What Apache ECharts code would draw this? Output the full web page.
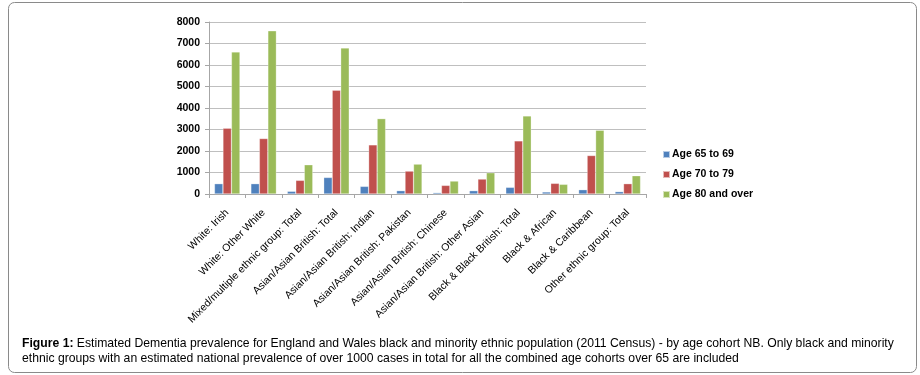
<!DOCTYPE html>
<html><head><meta charset="utf-8">
<script src="https://cdn.jsdelivr.net/npm/echarts@6/dist/echarts.min.js"></script>
<style>html,body{margin:0;padding:0;background:#fff}#c{width:920px;height:375px}</style>
</head><body><div id="c"></div>
<script>
var categories = ["White: Irish","White: Other White","Mixed/multiple ethnic group: Total","Asian/Asian British: Total","Asian/Asian British: Indian","Asian/Asian British: Pakistan","Asian/Asian British: Chinese","Asian/Asian British: Other Asian","Black & Black British: Total","Black & African","Black & Caribbean","Other ethnic group: Total"];
var age65to69 = [480,480,125,770,355,155,62,155,310,95,200,110];
var age70to79 = [3060,2580,635,4830,2285,1065,400,695,2470,495,1790,480];
var age80plus = [6610,7590,1360,6795,3505,1390,602,988,3630,450,2965,850];
var seriesNames = ["Age 65 to 69","Age 70 to 79","Age 80 and over"];
var yTicks = {min:0,max:8000,interval:1000};
var captionBold = "Figure 1:";
var captionLine1 = " Estimated Dementia prevalence for England and Wales black and minority ethnic population (2011 Census) - by age cohort NB. Only black and minority";
var captionLine2 = "ethnic groups with an estimated national prevalence of over 1000 cases in total for all the combined age cohorts over 65 are included";

var chart = echarts.init(document.getElementById('c'));
var colors = ['#4F81BD','#C0504D','#9BBB59'];
var vals = [age65to69, age70to79, age80plus];
var FF = 'Liberation Sans, Arial, sans-serif';
chart.setOption({
  animation:false,
  color:colors,
  grid:{left:209,right:274,top:22,bottom:181,containLabel:false},
  legend:{
    orient:'vertical', left:657, top:144, itemWidth:7, itemHeight:7, itemGap:9,
    icon:'rect',
    textStyle:{fontFamily:FF,fontSize:10.5,fontWeight:'bold',color:'#000',padding:[0,0,0,-3]},
    data:seriesNames
  },
  xAxis:{
    type:'category', data:categories,
    axisLine:{lineStyle:{color:'#a6a6a6'}},
    axisTick:{show:true,length:4,lineStyle:{color:'#a6a6a6'}},
    axisLabel:{rotate:45,interval:0,margin:17,fontFamily:FF,fontSize:10.5,color:'#000'}
  },
  yAxis:{
    type:'value', min:yTicks.min, max:yTicks.max, interval:yTicks.interval,
    axisLine:{show:true,lineStyle:{color:'#a6a6a6'}},
    axisTick:{show:true,length:4,lineStyle:{color:'#a6a6a6'}},
    splitLine:{lineStyle:{color:'#bfbfbf'}},
    axisLabel:{margin:9,fontFamily:FF,fontSize:10.5,fontWeight:'bold',color:'#000',formatter:function(v){return String(v);}}
  },
  series: seriesNames.map(function(n,i){
    return {name:n,type:'bar',data:vals[i],barGap:'0%',barCategoryGap:'30%',
      itemStyle:{color:colors[i],borderColor:'rgba(255,255,255,0.6)',borderWidth:0.5}};
  }),
  graphic:[
    {type:'rect',shape:{x:8.5,y:2.5,width:908,height:370,r:6},style:{fill:'none',stroke:'#8a8a8a',lineWidth:1},z:-1},
    {type:'text',left:22,top:338,style:{rich:{b:{fontWeight:'bold',fontFamily:FF,fontSize:12.2,fill:'#000'},n:{fontFamily:FF,fontSize:12.2,fill:'#000'}},text:'{b|'+captionBold+'}{n|'+captionLine1+'}',fill:'#000'}},
    {type:'text',left:22,top:353,style:{text:captionLine2,fontFamily:FF,fontSize:12.2,fill:'#000'}}
  ]
});
</script></body></html>
